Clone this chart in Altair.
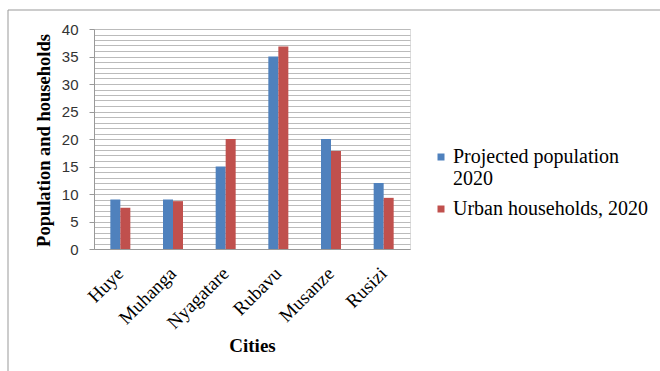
import altair as alt
import pandas as pd

cities = ["Huye", "Muhanga", "Nyagatare", "Rubavu", "Musanze", "Rusizi"]
projected_population = [9, 9, 15, 35, 20, 12]
urban_households = [7.5, 8.7, 20, 36.8, 17.8, 9.3]
series_names = ["Projected population 2020", "Urban households, 2020"]
series_colors = ["#4F81BD", "#C0504D"]
y_grid_values = list(range(0, 41))

rows = []
for c, p, h in zip(cities, projected_population, urban_households):
    rows.append({"city": c, "series": series_names[0], "value": p})
    rows.append({"city": c, "series": series_names[1], "value": h})
df = pd.DataFrame(rows)

serif = "Liberation Serif"

bars = alt.Chart(df).mark_bar(size=10).encode(
    x=alt.X("city:N", sort=cities,
            scale=alt.Scale(paddingInner=0.62, paddingOuter=0.31),
            axis=alt.Axis(title="Cities", titleFont=serif, titleFontSize=19,
                          titleFontWeight="bold", titleColor="black",
                          titleX=158, titleY=96, titleAlign="center", titleBaseline="middle",
                          labelAngle=-45, labelAlign="right", labelBaseline="middle",
                          labelFont=serif, labelFontSize=19, labelColor="black",
                          labelPadding=21, ticks=False, domainColor="#999999",
                          grid=False)),
    xOffset=alt.XOffset("series:N", sort=series_names,
                        scale=alt.Scale(paddingInner=0, paddingOuter=0)),
    y=alt.Y("value:Q", scale=alt.Scale(domain=[0, 40], nice=False),
            axis=alt.Axis(values=y_grid_values, title="Population and households",
                          titleFont=serif, titleFontSize=18.5, titleFontWeight="bold",
                          titleColor="black", titleX=-51, titleY=111,
                          titleAlign="center", titleBaseline="middle", titleAngle=-90,
                          labelExpr="datum.value % 5 == 0 ? datum.label : ''",
                          labelFont="Liberation Sans", labelFontSize=15, labelColor="#333333",
                          labelPadding=11, tickSize=5,
                          tickColor={"condition": {"test": "datum.value % 5 == 0", "value": "#999999"}, "value": "transparent"},
                          gridColor="#BBBBBB", domainColor="#999999")),
    color=alt.Color("series:N", sort=series_names,
                    scale=alt.Scale(domain=series_names, range=series_colors),
                    legend=alt.Legend(title=None, orient="none", legendX=337, legendY=118,
                                      symbolType="square", symbolSize=49,
                                      symbolStrokeWidth=0, labelFont=serif,
                                      labelFontSize=20, labelColor="black",
                                      labelExpr="datum.label == 'Projected population 2020' ? ['Projected population', '2020'] : datum.label",
                                      labelOffset=2, rowPadding=10, labelLimit=300)),
)

frame_df = pd.DataFrame({"k": [0]})
top_line = alt.Chart(frame_df).mark_rule(color="#999999", strokeWidth=1).encode(
    x=alt.value(-86), x2=alt.value(570), y=alt.value(-19))
left_line = alt.Chart(frame_df).mark_rule(color="#999999", strokeWidth=1).encode(
    x=alt.value(-86), y=alt.value(-19), y2=alt.value(350))

chart = alt.layer(bars, top_line, left_line).properties(
    width=316, height=220,
    autosize=alt.AutoSizeParams(type="none"),
    padding={"left": 94, "top": 29, "right": 250, "bottom": 122},
    background="white",
).configure_view(stroke=None).configure_legend(labelFont=serif).configure(font=serif)

chart.save("out.html", embed_options={"renderer": "svg", "actions": False})
